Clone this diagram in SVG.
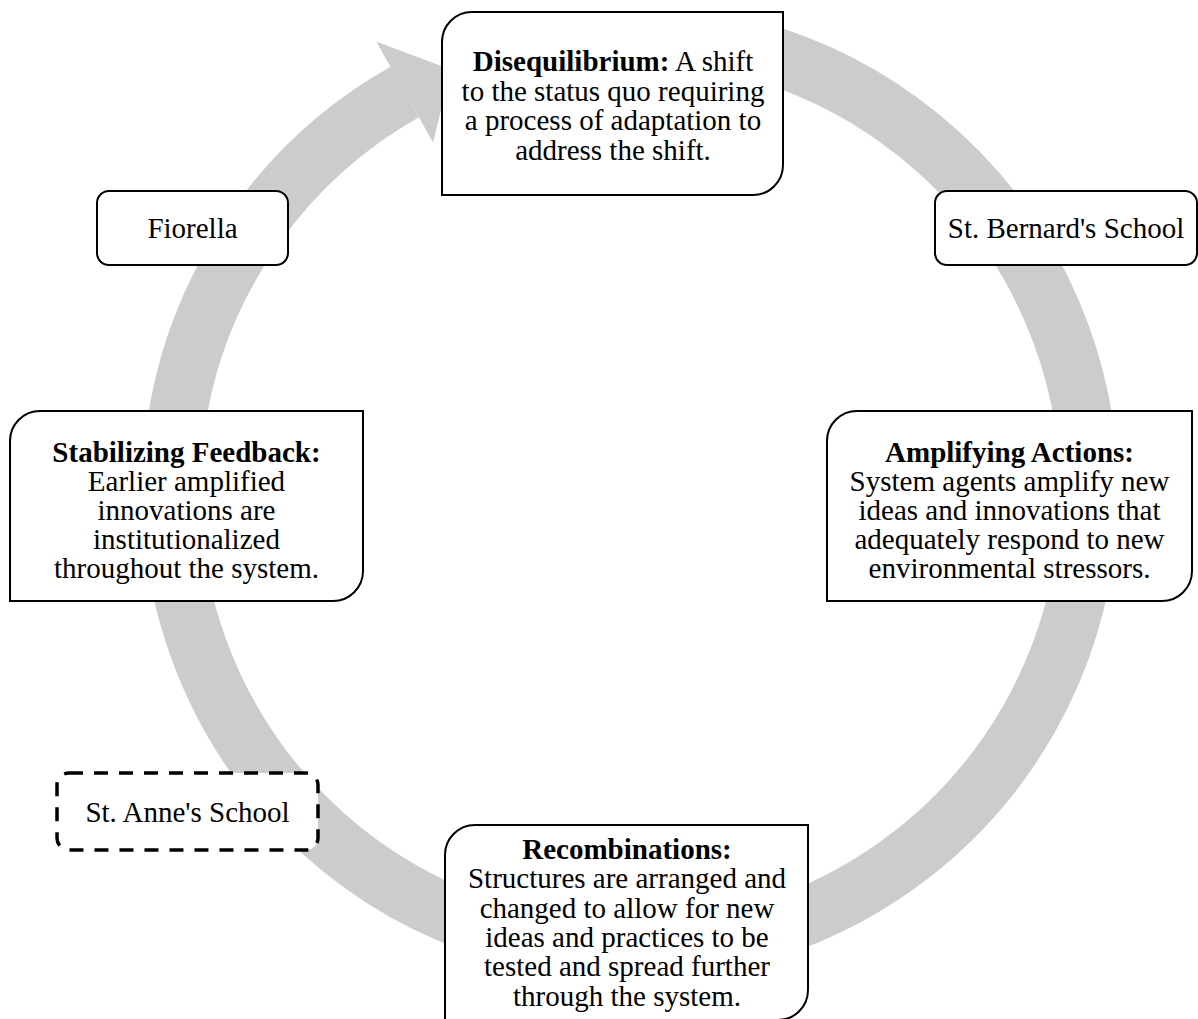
<svg xmlns="http://www.w3.org/2000/svg" width="1198" height="1019" viewBox="0 0 1198 1019">
<style>
.box{fill:#fff;stroke:#000;stroke-width:2}
.dash{fill:#fff;stroke:#000;stroke-width:3.5;stroke-dasharray:14 11}
text{font-family:"Liberation Serif","Times New Roman",serif;font-size:29px;fill:#000;text-anchor:middle}
.b{font-weight:bold}
.ring{fill:none;stroke:#cccccc;stroke-width:58;stroke-linecap:butt}
</style>
<rect width="1198" height="1019" fill="#fff"/>
<g id="connectors">
<path class="ring" d="M741.0,46.6 A459 459 0 1 1 404.7,92.1"/>
<polygon points="376.2,41.6 450.7,69.5 433.1,142.6" fill="#cccccc"/>
</g>
<g id="node-disequilibrium">
<path class="box" d="M472,12 H783 V165 A30 30 0 0 1 753,195 H442 V42 A30 30 0 0 1 472,12 Z"/>
<text x="613" y="71"><tspan class="b">Disequilibrium:</tspan> A shift</text>
<text x="613" y="100.5">to the status quo requiring</text>
<text x="613" y="130">a process of adaptation to</text>
<text x="613" y="159.5">address the shift.</text>
</g>
<g id="node-stbernard">
<rect class="box" x="935" y="191" width="262" height="74" rx="12"/>
<text x="1066" y="238">St. Bernard's School</text>
</g>
<g id="node-fiorella">
<rect class="box" x="97" y="191" width="191" height="74" rx="12"/>
<text x="192.5" y="238">Fiorella</text>
</g>
<g id="node-amplifying">
<path class="box" d="M857,411 H1192 V571 A30 30 0 0 1 1162,601 H827 V441 A30 30 0 0 1 857,411 Z"/>
<text x="1009.5" y="462" class="b">Amplifying Actions:</text>
<text x="1009.5" y="491">System agents amplify new</text>
<text x="1009.5" y="520">ideas and innovations that</text>
<text x="1009.5" y="549">adequately respond to new</text>
<text x="1009.5" y="578">environmental stressors.</text>
</g>
<g id="node-stabilizing">
<path class="box" d="M40,411 H363 V571 A30 30 0 0 1 333,601 H10 V441 A30 30 0 0 1 40,411 Z"/>
<text x="186.5" y="462" class="b">Stabilizing Feedback:</text>
<text x="186.5" y="491">Earlier amplified</text>
<text x="186.5" y="520">innovations are</text>
<text x="186.5" y="549">institutionalized</text>
<text x="186.5" y="578">throughout the system.</text>
</g>
<g id="node-stanne">
<rect class="dash" x="57" y="773" width="261" height="77" rx="12"/>
<text x="187.5" y="822">St. Anne's School</text>
</g>
<g id="node-recombinations">
<path class="box" d="M475,825 H808 V990 A30 30 0 0 1 778,1020 H445 V855 A30 30 0 0 1 475,825 Z"/>
<text x="627" y="859" class="b">Recombinations:</text>
<text x="627" y="888.3">Structures are arranged and</text>
<text x="627" y="917.6">changed to allow for new</text>
<text x="627" y="946.9">ideas and practices to be</text>
<text x="627" y="976.2">tested and spread further</text>
<text x="627" y="1005.5">through the system.</text>
</g>
</svg>
